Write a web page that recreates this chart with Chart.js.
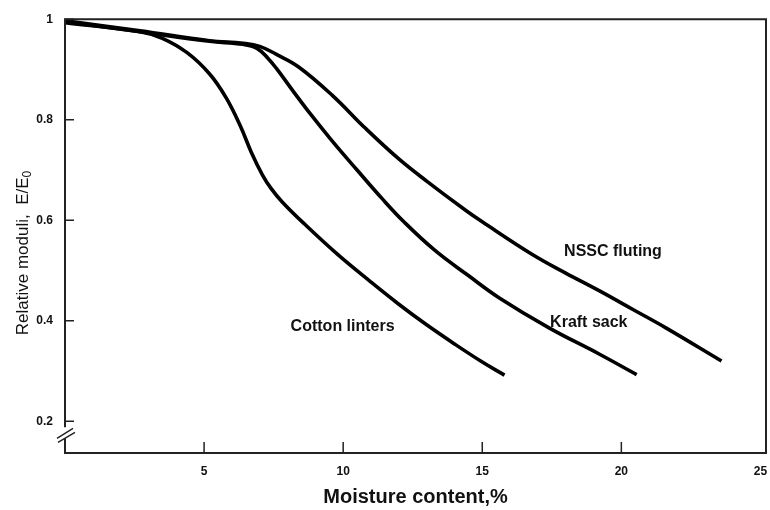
<!DOCTYPE html>
<html>
<head>
<meta charset="utf-8">
<script src="https://cdn.jsdelivr.net/npm/chart.js@4.4.0/dist/chart.umd.min.js"></script>
<style>
  body { margin: 0; background: #fff; }
  #wrap { width: 770px; height: 510px; }
</style>
</head>
<body>
<div id="wrap"><canvas id="moduli"></canvas></div>
<script>
// moisture content (%) vs relative modulus E/E0
var cottonX = [0, 2.7, 3.5, 4.4, 5.2, 5.8, 6.3, 6.7, 7.1, 7.4, 7.8, 8.6, 9.8, 11.0, 12.0, 13.0, 14.0, 15.0, 15.8];
var cottonY = [0.993, 0.975, 0.962, 0.933, 0.891, 0.843, 0.788, 0.735, 0.69, 0.664, 0.637, 0.593, 0.532, 0.477, 0.433, 0.392, 0.354, 0.318, 0.292];

var kraftX = [0, 2.7, 5.2, 6.4, 6.9, 7.3, 7.6, 8.2, 8.8, 9.6, 10.5, 11.4, 12.2, 13.3, 14.5, 15.6, 17.4, 19.2, 20.55];
var kraftY = [0.995, 0.975, 0.956, 0.95, 0.942, 0.922, 0.902, 0.857, 0.813, 0.758, 0.7, 0.643, 0.596, 0.54, 0.49, 0.446, 0.386, 0.334, 0.293];

var nsscX = [0, 2.7, 5.2, 6.4, 7.0, 7.6, 8.4, 9.6, 10.8, 12.0, 13.0, 14.4, 15.0, 16.8, 18.0, 19.2, 20.4, 21.6, 23.6];
var nsscY = [0.997, 0.977, 0.957, 0.952, 0.946, 0.93, 0.905, 0.849, 0.783, 0.722, 0.678, 0.62, 0.597, 0.532, 0.495, 0.46, 0.423, 0.386, 0.32];

var curveNames = ["Cotton linters", "Kraft sack", "NSSC fluting"];
var xTicks = [5, 10, 15, 20, 25];
var yTicks = [0.2, 0.4, 0.6, 0.8, 1];

function pts(xs, ys) {
  return xs.map(function (x, i) { return { x: x, y: ys[i] }; });
}

function curve(name, xs, ys) {
  return {
    label: name,
    data: pts(xs, ys),
    showLine: true,
    borderColor: "#000",
    borderWidth: 3.6,
    pointRadius: 0,
    tension: 0.4,
    fill: false
  };
}

Chart.defaults.font.family = "'Liberation Sans', Arial, sans-serif";
Chart.defaults.color = "#111";

// box, inner ticks, axis break, curve names and y title
var decor = {
  id: "decor",
  afterDatasetsDraw: function (chart) {
    var ctx = chart.ctx, a = chart.chartArea;
    var xs = chart.scales.x, ys = chart.scales.y;
    var brk = ys.getPixelForValue(0.2) + 11;

    ctx.save();
    ctx.strokeStyle = "#222";
    ctx.lineWidth = 2;
    ctx.beginPath();
    ctx.moveTo(a.left, brk - 5);
    ctx.lineTo(a.left, a.top);
    ctx.lineTo(a.right, a.top);
    ctx.lineTo(a.right, a.bottom);
    ctx.lineTo(a.left, a.bottom);
    ctx.lineTo(a.left, brk + 6);
    ctx.stroke();

    ctx.lineWidth = 1.5;
    ctx.beginPath();
    yTicks.forEach(function (v) {
      var p = ys.getPixelForValue(v);
      ctx.moveTo(a.left, p);
      ctx.lineTo(a.left + 9, p);
    });
    xTicks.forEach(function (v) {
      var p = xs.getPixelForValue(v);
      if (p > a.right - 10) return;
      ctx.moveTo(p, a.bottom);
      ctx.lineTo(p, a.bottom - 11);
    });
    // the // break on the y axis
    ctx.moveTo(a.left - 8, brk + 6);
    ctx.lineTo(a.left + 8, brk - 4);
    ctx.moveTo(a.left - 7, brk + 10);
    ctx.lineTo(a.left + 10, brk);
    ctx.stroke();

    // curve names
    var spots = chart.options.plugins.decor.labels;
    ctx.fillStyle = "#111";
    ctx.font = "bold 16px 'Liberation Sans', Arial, sans-serif";
    ctx.textAlign = "center";
    ctx.textBaseline = "middle";
    spots.forEach(function (s, i) {
      ctx.fillText(curveNames[i], xs.getPixelForValue(s[0]), ys.getPixelForValue(s[1]));
    });

    // y title with subscript
    var main = "Relative moduli,  E/E";
    ctx.font = "17px 'Liberation Sans', Arial, sans-serif";
    var w1 = ctx.measureText(main).width;
    ctx.font = "12px 'Liberation Sans', Arial, sans-serif";
    var w2 = ctx.measureText("0").width;
    ctx.translate(23, 253);
    ctx.rotate(-Math.PI / 2);
    ctx.textAlign = "left";
    ctx.textBaseline = "middle";
    ctx.font = "17px 'Liberation Sans', Arial, sans-serif";
    ctx.fillText(main, -(w1 + w2) / 2, 0);
    ctx.font = "12px 'Liberation Sans', Arial, sans-serif";
    ctx.fillText("0", -(w1 + w2) / 2 + w1, 5);
    ctx.restore();
  }
};

new Chart(document.getElementById("moduli"), {
  type: "scatter",
  data: {
    datasets: [
      curve(curveNames[0], cottonX, cottonY),
      curve(curveNames[1], kraftX, kraftY),
      curve(curveNames[2], nsscX, nsscY)
    ]
  },
  options: {
    responsive: true,
    maintainAspectRatio: false,
    animation: false,
    layout: { padding: { top: 15, right: 4, left: 0, bottom: 0 } },
    plugins: {
      legend: { display: false },
      tooltip: { enabled: false },
      decor: { labels: [[9.98, 0.389], [18.83, 0.397], [19.7, 0.537]] }
    },
    scales: {
      x: {
        type: "linear",
        min: 0,
        max: 25.2,
        grid: { display: false, drawTicks: false },
        border: { display: false },
        afterBuildTicks: function (s) {
          s.ticks = xTicks.map(function (v) { return { value: v }; });
        },
        afterFit: function (s) {
          s.height = 57;
          s.paddingLeft = 0;
          s.paddingRight = 0;
        },
        ticks: {
          padding: 11,
          maxRotation: 0,
          autoSkip: false,
          font: { size: 12, weight: "bold" }
        },
        title: {
          display: true,
          text: "Moisture content,%",
          font: { size: 20, weight: "bold" },
          padding: { top: 0, bottom: 1 }
        }
      },
      y: {
        min: 0.137,
        max: 1.0,
        grid: { display: false, drawTicks: false },
        border: { display: false },
        afterBuildTicks: function (s) {
          s.ticks = yTicks.map(function (v) { return { value: v }; });
        },
        afterFit: function (s) { s.width = 65; },
        ticks: {
          padding: 12,
          font: { size: 12, weight: "bold" },
          callback: function (v) { return v === 1 ? "1" : v.toFixed(1); }
        }
      }
    }
  },
  plugins: [decor]
});
</script>
</body>
</html>
